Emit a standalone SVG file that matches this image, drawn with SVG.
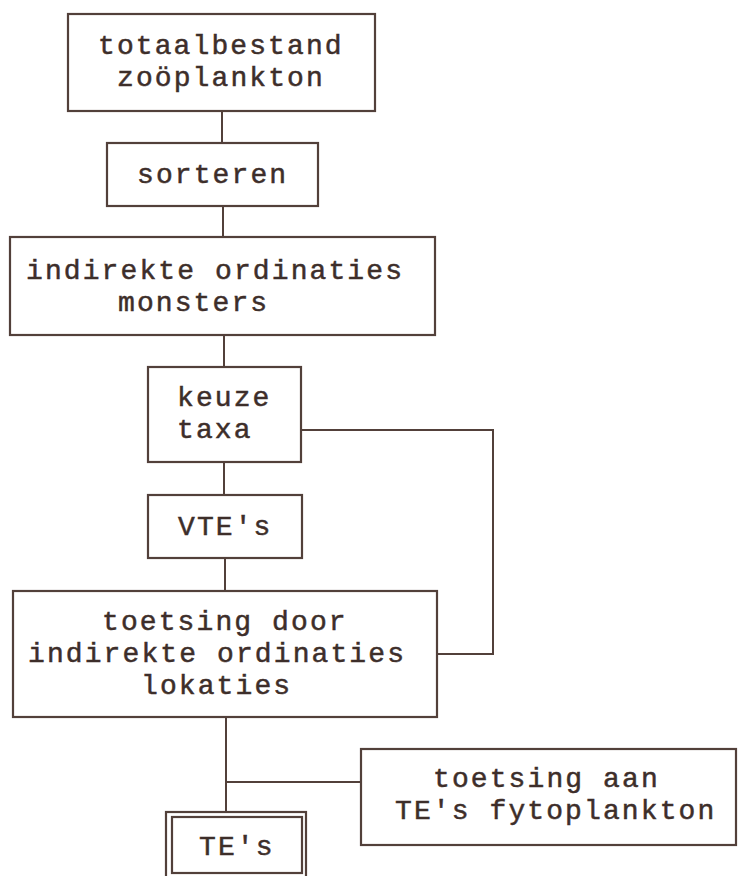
<svg xmlns="http://www.w3.org/2000/svg" width="738" height="876" viewBox="0 0 738 876">
<style>
.b{fill:none;stroke:#52403a;stroke-width:2.2}
.c{fill:none;stroke:#52403a;stroke-width:2}
text{font-family:"Liberation Mono","Courier New",monospace;font-size:28px;letter-spacing:2.1px;fill:#3d2e2a;stroke:#3d2e2a;stroke-width:0.5}
</style>
<rect width="738" height="876" fill="#fff"/>
<g id="connectors">
<path class="c" d="M222 111V143"/>
<path class="c" d="M223 206V237"/>
<path class="c" d="M224 335V367"/>
<path class="c" d="M224 462V495"/>
<path class="c" d="M225 558V591"/>
<path class="c" d="M301 430H493V654H437"/>
<path class="c" d="M226 717V812"/>
<path class="c" d="M226 782H361"/>
</g>
<g id="n1"><rect class="b" x="68" y="14" width="307" height="97"/><text x="98" y="54">totaalbestand</text><text x="117" y="86">zoöplankton</text></g>
<g id="n2"><rect class="b" x="107" y="143" width="211" height="63"/><text x="137" y="183">sorteren</text></g>
<g id="n3"><rect class="b" x="10" y="237" width="425" height="98"/><text x="26" y="279">indirekte ordinaties</text><text x="118" y="311">monsters</text></g>
<g id="n4"><rect class="b" x="148" y="367" width="153" height="95"/><text x="177" y="406">keuze</text><text x="177" y="438">taxa</text></g>
<g id="n5"><rect class="b" x="148" y="495" width="154" height="63"/><text x="178" y="535">VTE's</text></g>
<g id="n6"><rect class="b" x="13" y="591" width="424" height="126"/><text x="102" y="630">toetsing door</text><text x="28" y="662">indirekte ordinaties</text><text x="141" y="694">lokaties</text></g>
<g id="n7"><rect class="b" x="361" y="749" width="375" height="96"/><text x="433" y="787">toetsing aan</text><text x="395" y="819">TE's fytoplankton</text></g>
<g id="n8"><rect class="b" x="166" y="812" width="140" height="66"/><rect class="b" x="172" y="817" width="130" height="56"/><text x="199" y="855">TE's</text></g>
</svg>
